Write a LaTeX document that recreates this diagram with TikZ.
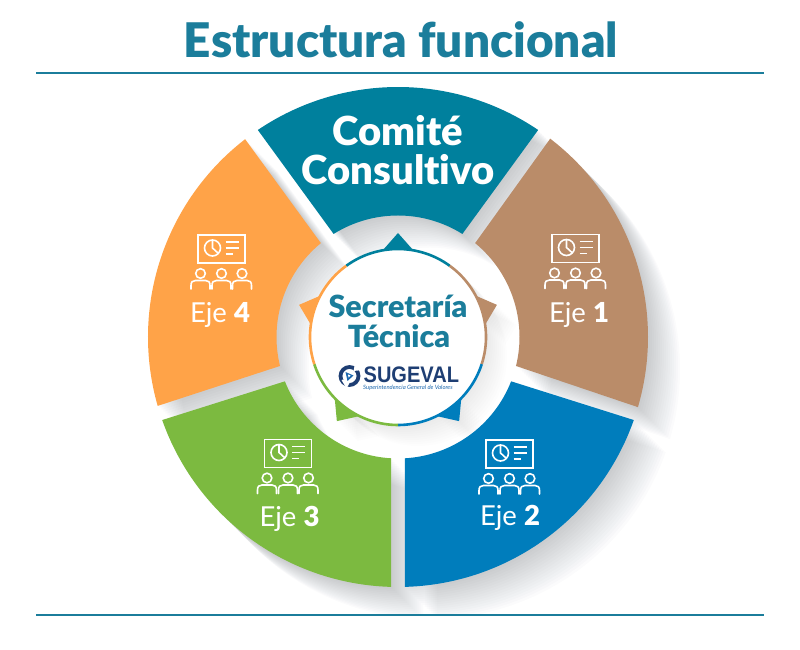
\documentclass[tikz,border=0pt]{standalone}
\usepackage{fontspec}
\setmainfont[Ligatures=NoCommon]{Lato}
\newfontfamily\heavy[Ligatures=NoCommon]{Lato Black}
\newfontfamily\logofont{Liberation Sans}
\definecolor{cteal}{RGB}{0,128,157}
\definecolor{cbrown}{RGB}{186,140,105}
\definecolor{corange}{RGB}{255,163,72}
\definecolor{cgreen}{RGB}{124,186,64}
\definecolor{cblue}{RGB}{0,125,188}
\definecolor{ctitle}{RGB}{27,125,155}
\definecolor{clogo}{RGB}{30,62,115}
\definecolor{clogob}{RGB}{30,105,175}
\definecolor{cshadow}{RGB}{50,56,66}
\newcommand{\segpath}[4]{(#1:250) arc[start angle=#1,end angle=#2,radius=250] -- (#4:121.5) arc[start angle=#4,end angle=#3,radius=121.5] -- cycle}
\newcommand{\iconpic}[3]{%
\begin{scope}[shift={(#1,#2)},draw=white,line width=1.6pt]
\draw[line width=1.8pt] (-23.5,-14) rectangle (23.5,14);
\draw (-9,1) circle (8);
\draw (-9,9) -- (-9,1) -- (-3,-4.5);
\draw (4,7) -- (17,7) (4,1) -- (17,1) (4,-5) -- (11,-5);
\foreach \xx in {-21,0,20.5}{
\draw (\xx,-24.5) circle (4.8);
\draw[line cap=round] (\xx-9.5,-40) -- (\xx-9.5,-36.5) .. controls (\xx-9.5,-33) and (\xx-8,-31.5) .. (\xx-5,-31.5) -- (\xx+5,-31.5) .. controls (\xx+8,-31.5) and (\xx+9.5,-33) .. (\xx+9.5,-36.5) -- (\xx+9.5,-40);
}
\end{scope}}
\newcommand{\tippath}[1]{(#1-10:88) -- (#1:104) -- (#1+10:88) -- cycle}
\tikzset{
  ejelabel/.style={anchor=base,text=white,font=\fontsize{27.5}{27.5}\selectfont,inner sep=0},
  rulefill/.style={draw=ctitle,line width=1.6pt},
  softshadow/.style={fill=cshadow,opacity=.014},
  softshadowb/.style={fill=cshadow,opacity=.009},
}
\begin{document}
\begin{tikzpicture}[x=1pt,y=1pt]
\useasboundingbox (0,0) rectangle (800,650);
\fill[white] (0,0) rectangle (800,650);
\coordinate (C) at (398,313);
% shadows
\begin{scope}
\clip (0,36) rectangle (800,650);
\foreach \k in {1,...,16}{
 \begin{scope}[shift={(398+2*\k,313-2*\k)}]
  \fill[softshadow] \segpath{124.1}{55.9}{122}{58};
  \fill[softshadow] \segpath{52.5}{-16.3}{50.6}{-13.8};
  \fill[softshadow] \segpath{-19.4}{-88.4}{-21.4}{-86.7};
  \fill[softshadow] \segpath{-91.6}{-160.6}{-93.3}{-158.6};
  \fill[softshadow] \segpath{196}{127.7}{193.8}{129.4};
 \end{scope}}
\end{scope}
\begin{scope}[shift={(398,313)}]
\clip (0,0) circle (121);
\foreach \k in {1,...,10}{
 \begin{scope}[shift={(2*\k,-2*\k)}]
  \fill[softshadowb] (0,0) circle (89);
  \foreach \a in {90,18,-54,-126,162}{\fill[softshadowb] \tippath{\a};}
 \end{scope}}
\end{scope}
% segments
\begin{scope}[shift={(398,313)}]
 \fill[cteal] \segpath{124.1}{55.9}{122}{58};
 \fill[cbrown] \segpath{52.5}{-16.3}{50.6}{-13.8};
 \fill[cblue] \segpath{-19.4}{-88.4}{-21.4}{-86.7};
 \fill[cgreen] \segpath{-91.6}{-160.6}{-93.3}{-158.6};
 \fill[corange] \segpath{196}{127.7}{193.8}{129.4};
 % tips
 \fill[cteal] \tippath{90};
 \fill[cbrown] \tippath{18};
 \fill[cblue] \tippath{-54};
 \fill[cgreen] \tippath{-126};
 \fill[corange] \tippath{162};
 \fill[white] (0,0) circle (88);
 \draw[cteal,line width=2.6pt] (126:88) arc[start angle=126,end angle=54,radius=88];
 \draw[cbrown,line width=2.6pt] (54:88) arc[start angle=54,end angle=-18,radius=88];
 \draw[cblue,line width=2.6pt] (-18:88) arc[start angle=-18,end angle=-90,radius=88];
 \draw[cgreen,line width=2.6pt] (-90:88) arc[start angle=-90,end angle=-162,radius=88];
 \draw[corange,line width=2.6pt] (-162:88) arc[start angle=-162,end angle=-234,radius=88];
\end{scope}
% rules
\draw[rulefill] (36,577) -- (764,577);
\draw[rulefill] (36,35) -- (764,35);
% title
\node[anchor=base,text=ctitle,inner sep=0,font=\heavy\fontsize{47.7}{47.7}\selectfont] (title) at (401,592) {Estructura funcional};
\node[anchor=base,text=white,inner sep=0,font=\heavy\fontsize{40}{40}\selectfont] (comite) at (398,504) {Comité};
\node[anchor=base,text=white,inner sep=0,font=\heavy\fontsize{40}{40}\selectfont] (consultivo) at (398,465) {Consultivo};
% icons
\iconpic{575.5}{401.5}{}
\iconpic{221.5}{401}{}
\iconpic{509.5}{196}{}
\iconpic{288}{196.5}{}
\node[ejelabel] (eje1) at (579,327) {Eje {\heavy 1}};
\node[ejelabel] (eje4) at (220,327) {Eje {\heavy 4}};
\node[ejelabel] (eje2) at (510,124) {Eje {\heavy 2}};
\node[ejelabel] (eje3) at (289.5,123) {Eje {\heavy 3}};
% centre
\node[anchor=base,text=ctitle,inner sep=0,font=\heavy\fontsize{30.5}{30.5}\selectfont] (secretaria) at (398,332) {Secretaría};
\node[anchor=base,text=ctitle,inner sep=0,font=\heavy\fontsize{30.5}{30.5}\selectfont] (tecnica) at (399,302) {Técnica};
% logo
\begin{scope}[shift={(349.5,274)}]
 \draw[clogo,line width=3.8pt] (0,0) circle (9);
 \fill[white] (-3,-12.5) -- (-8,-4) -- (-4,-3) -- (0,-7) -- cycle;
 \fill[white] (13,6) -- (5,10) -- (4,5) -- cycle;
 \fill[clogob] (-4,4) -- (4,0.5) -- (-2,-5) -- cycle;
 \fill[white] (-1.5,1.5) -- (1,0.5) -- (-1,-1.5) -- cycle;
\end{scope}
\node[anchor=base west,text=clogo,inner sep=0,xscale=.89,font=\logofont\fontsize{22.5}{22.5}\selectfont\bfseries] (sugeval) at (363.5,267.5) {SUGEVAL};
\node[anchor=base west,text=clogob,inner sep=0,font=\fontsize{5.9}{5.9}\selectfont\itshape] (superintendencia) at (363,260.2) {Superintendencia General de Valores};
\end{tikzpicture}
\end{document}
